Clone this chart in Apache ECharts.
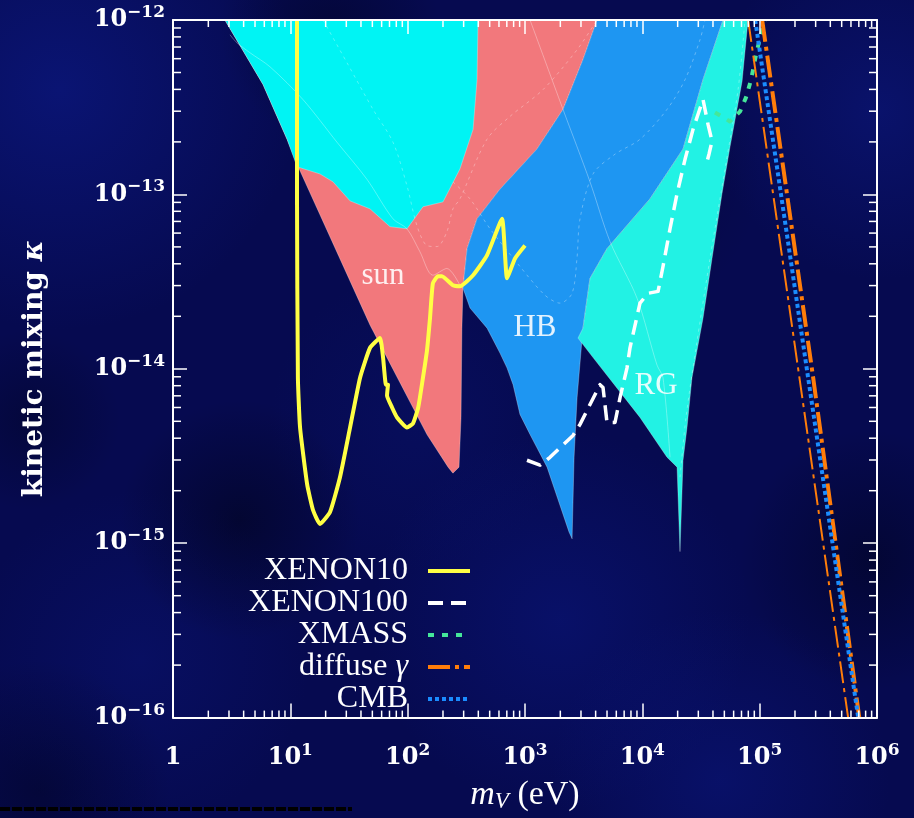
<!DOCTYPE html>
<html>
<head>
<meta charset="utf-8">
<title>Dark photon kinetic mixing limits</title>
<script src="https://cdn.jsdelivr.net/npm/echarts@6/dist/echarts.min.js"></script>
<style>
  html, body { margin: 0; padding: 0; background: #060a50; }
  #chart { width: 914px; height: 818px; }
</style>
</head>
<body>
<div id="chart"></div>
<script>
// ---- axis tick labels (powers of ten) ----
const xTickSup = ['', '1', '2', '3', '4', '5', '6'];          // 1 ... 10^6 eV
const yTickSup = ['\u221216', '\u221215', '\u221214', '\u221213', '\u221212'];

// ---- excluded regions (mass in eV, kinetic mixing) ----
const sunMass  = [2.77, 5.85, 9.38, 11.4, 47.8, 146, 221, 243, 274, 285, 290, 296, 321, 390, 612, 1266, 2109, 3119, 4111];
const sunKappa = [1e-12, 4.27e-13, 2.07e-13, 1.49e-13, 1.78e-14, 4.2e-15, 2.73e-15, 2.52e-15, 2.73e-15, 5.26e-15, 1.71e-14, 2.9e-14, 4.89e-14, 7.24e-14, 1.07e-13, 1.82e-13, 3.07e-13, 5.92e-13, 1e-12];

const upperMass  = [2.77, 5.85, 9.38, 11.4, 17.9, 23.1, 32.3, 47.8, 70.7, 98.7, 135, 200, 279, 361, 390, 398];
const upperKappa = [1e-12, 4.27e-13, 2.07e-13, 1.44e-13, 1.31e-13, 1.18e-13, 9.18e-14, 8.26e-14, 6.53e-14, 6.35e-14, 8.49e-14, 9.06e-14, 1.40e-13, 2.36e-13, 4.55e-13, 1e-12];

const hbMass  = [4111, 48750, 32900, 22230, 11610, 5000, 3581, 3119, 2780, 2620, 2520, 2371, 1542, 1104, 906, 791, 703, 612, 475, 340, 296, 321, 390, 612, 1266, 2109, 3119];
const hbKappa = [1e-12, 1e-12, 4.55e-13, 1.82e-13, 9.42e-14, 4.89e-14, 3.30e-14, 1.71e-14, 6.84e-15, 3.11e-15, 1.06e-15, 1.16e-15, 2.73e-15, 4.2e-15, 5.47e-15, 8.11e-15, 1.01e-14, 1.23e-14, 1.71e-14, 2.23e-14, 2.9e-14, 4.89e-14, 7.24e-14, 1.07e-13, 1.82e-13, 3.07e-13, 5.92e-13];

const rgMass  = [48750, 79600, 70800, 55850, 47750, 39260, 32900, 26490, 24040, 22230, 20940, 19770, 16220, 9550, 3802, 2830, 3119, 3581, 5000, 11610, 22230, 32900];
const rgKappa = [1e-12, 1e-12, 4.44e-13, 1.87e-13, 1.01e-13, 4.29e-14, 1.95e-14, 8.89e-15, 4.61e-15, 2.99e-15, 8.95e-16, 2.73e-15, 3.11e-15, 5.26e-15, 1.16e-14, 1.50e-14, 1.71e-14, 3.30e-14, 4.89e-14, 9.42e-14, 1.82e-13, 4.55e-13];

const regionLabelText  = ['sun', 'HB', 'RG'];
const regionLabelMass  = [61.6, 1217, 13090];
const regionLabelKappa = [3.39e-14, 1.71e-14, 8.0e-15];

// ---- faint reference curves inside the regions ----
const guideAMass  = [3.06, 3.51, 4.53, 6.71, 12.8, 25.0, 45.0, 75.0, 98.7, 127, 164, 216, 279];
const guideAKappa = [8.22e-13, 7.40e-13, 6.49e-13, 5.39e-13, 3.50e-13, 1.99e-13, 1.22e-13, 7.24e-14, 6.35e-14, 4.70e-14, 3.44e-14, 3.76e-14, 3.01e-14];
const guideBMass  = [1104, 2109, 3581, 5309, 9010, 13340, 15000, 17220];
const guideBKappa = [1e-12, 3.07e-13, 1.18e-13, 5.36e-14, 2.54e-14, 1.05e-14, 8.89e-15, 3.11e-15];
const contourAMass  = [19.0, 30.4, 50.7, 75.0, 98.7, 120, 146, 178, 216, 243, 279, 474, 745, 1425, 2773, 4111];
const contourAKappa = [1e-12, 5.69e-13, 3.07e-13, 1.99e-13, 1.12e-13, 6.62e-14, 5.09e-14, 5.02e-14, 6.11e-14, 8.26e-14, 9.42e-14, 2.07e-13, 2.80e-13, 3.99e-13, 6.74e-13, 1e-12];
const contourBMass  = [243, 340, 504, 906, 1482, 1986, 2517, 2773, 2944, 3802, 5848, 9550, 16220, 23120, 30980, 34200];
const contourBKappa = [1.18e-13, 9.42e-14, 6.35e-14, 3.86e-14, 2.64e-14, 2.38e-14, 2.71e-14, 4.29e-14, 7.24e-14, 1.31e-13, 1.70e-13, 2.07e-13, 3.07e-13, 4.55e-13, 7.69e-13, 1e-12];
const contourCMass  = [20940, 23560, 28690, 37740, 50700, 65460, 74990];
const contourCKappa = [2.39e-15, 5.26e-15, 1.32e-14, 4.29e-14, 1.40e-13, 3.99e-13, 1e-12];

// ---- direct detection and cosmology limits ----
const xenon10Mass  = [11.4, 11.4, 11.6, 12.1, 13.9, 15.6, 17.9, 21.8, 26.5, 32.3, 39.3, 47.8, 58.1, 61.7, 65.3, 68.0, 66.7, 73.6, 81.2, 98.7, 111, 123, 133, 146, 155, 164, 181, 196, 243, 279, 361, 474, 637, 703, 822, 1000];
const xenon10Kappa = [1e-12, 9.42e-14, 8.89e-15, 4.61e-15, 2.18e-15, 1.55e-15, 1.29e-15, 1.51e-15, 2.39e-15, 4.61e-15, 8.89e-15, 1.32e-14, 1.50e-14, 1.16e-14, 8.11e-15, 8.11e-15, 7.02e-15, 6.0e-15, 5.26e-15, 4.61e-15, 4.86e-15, 6.0e-15, 8.32e-15, 1.27e-14, 1.95e-14, 3.09e-14, 3.39e-14, 3.39e-14, 3.01e-14, 2.97e-14, 3.44e-14, 4.47e-14, 7.24e-14, 3.30e-14, 4.29e-14, 5.09e-14];

const xenon100Mass  = [1040, 1343, 1633, 2566, 2944, 3581, 4356, 4624, 5000, 5848, 6457, 7396, 7852, 9550, 11190, 13620, 15000, 17220, 19770, 23120, 27040, 29850, 32900, 36300, 39260, 37000, 34900];
const xenon100Kappa = [2.99e-15, 2.80e-15, 3.11e-15, 4.15e-15, 4.80e-15, 6.24e-15, 8.11e-15, 7.80e-15, 4.92e-15, 4.92e-15, 6.84e-15, 1.01e-14, 1.32e-14, 2.38e-14, 2.71e-14, 2.78e-14, 3.86e-14, 6.35e-14, 1.01e-13, 1.59e-13, 2.36e-13, 2.88e-13, 3.50e-13, 2.52e-13, 2.02e-13, 1.70e-13, 1.47e-13];

const xmassMass  = [41600, 55850, 68100, 76500, 84500, 93100, 100700, 111200];
const xmassKappa = [2.95e-13, 2.62e-13, 2.99e-13, 3.6e-13, 4.55e-13, 6.32e-13, 7.89e-13, 1e-12];

const diffuseMass  = [105000, 285800, 706000];
const diffuseKappa = [1e-12, 8.89e-15, 1e-16];
const diffuseEdgeMass  = [79800, 567500];
const diffuseEdgeKappa = [1e-12, 1e-16];

const cmbMass  = [91600, 258800, 691800];
const cmbKappa = [1e-12, 8.89e-15, 1e-16];

// ---- styling ----
const tickFont = 'DejaVu Serif';
const textFont = 'Liberation Serif';
const pairs = (xs, ys) => xs.map((x, i) => [x, ys[i]]);

function regionSeries(name, masses, kappas, fill) {
  return {
    type: 'custom', name: name, silent: true, clip: true, z: 1,
    data: pairs(masses, kappas),
    renderItem: function (params, api) {
      if (params.dataIndex !== 0) return null;
      const pts = masses.map((m, i) => api.coord([m, kappas[i]]));
      return {
        type: 'polygon',
        shape: { points: pts },
        style: { fill: fill, stroke: 'rgba(255,255,255,0.28)', lineWidth: 1 }
      };
    }
  };
}

function faintSeries(masses, kappas, dashed) {
  return {
    type: 'line', silent: true, z: 3, symbol: 'none', smooth: 0.3,
    data: pairs(masses, kappas),
    lineStyle: { color: 'rgba(255,255,255,0.32)', width: 1, type: dashed ? [3, 4] : 'solid' },
    emphasis: { disabled: true }
  };
}

function limitSeries(name, masses, kappas, color, width, dash, smooth) {
  return {
    type: 'line', name: name, z: 4, symbol: 'none', smooth: smooth || false,
    data: pairs(masses, kappas),
    itemStyle: { color: color, opacity: 0 },
    lineStyle: { color: color, width: width, type: dash, cap: 'butt', join: 'round' },
    emphasis: { disabled: true }
  };
}

// minor ticks at 2..9 times each power of ten, drawn on all four sides
const minorTickData = [];
for (let e = 0; e < 6; e++) for (let k = 2; k <= 9; k++) minorTickData.push([k * Math.pow(10, e), 1e-14, 0]);
for (let e = -16; e < -12; e++) for (let k = 2; k <= 9; k++) minorTickData.push([10, k * Math.pow(10, e), 1]);

const minorTickSeries = {
  type: 'custom', silent: true, z: 6, clip: false,
  data: minorTickData,
  renderItem: function (params, api) {
    const cs = params.coordSys;
    const st = { stroke: '#ffffff', lineWidth: 1.5 };
    if (api.value(2) === 0) {
      const px = api.coord([api.value(0), api.value(1)])[0];
      return { type: 'group', children: [
        { type: 'line', shape: { x1: px, y1: cs.y + cs.height, x2: px, y2: cs.y + cs.height - 7 }, style: st },
        { type: 'line', shape: { x1: px, y1: cs.y, x2: px, y2: cs.y + 7 }, style: st }
      ] };
    }
    const py = api.coord([api.value(0), api.value(1)])[1];
    return { type: 'group', children: [
      { type: 'line', shape: { x1: cs.x, y1: py, x2: cs.x + 8, y2: py }, style: st },
      { type: 'line', shape: { x1: cs.x + cs.width, y1: py, x2: cs.x + cs.width - 8, y2: py }, style: st }
    ] };
  }
};

const regionLabelSeries = {
  type: 'custom', silent: true, z: 5,
  data: pairs(regionLabelMass, regionLabelKappa),
  renderItem: function (params, api) {
    const p = api.coord([api.value(0), api.value(1)]);
    return {
      type: 'text', x: p[0], y: p[1],
      style: {
        text: regionLabelText[params.dataIndex],
        fill: 'rgba(255,255,255,0.88)',
        font: '31px "' + textFont + '"',
        align: 'center', verticalAlign: 'middle'
      }
    };
  }
};

const tickRich = {
  b: { fontFamily: tickFont, fontWeight: 'bold', fontSize: 24, lineHeight: 32, color: '#ffffff' },
  s: { fontFamily: tickFont, fontWeight: 'bold', fontSize: 17, lineHeight: 17, padding: [0, 0, 15, 0], color: '#ffffff' }
};

function expOf(v) { return Math.round(Math.log10(v)); }

const axisBase = {
  type: 'log', logBase: 10, z: 10,
  axisLine: { show: true, lineStyle: { color: '#ffffff', width: 2 } },
  axisTick: { show: true, inside: true, length: 14, lineStyle: { color: '#ffffff', width: 1.5 } },
  splitLine: { show: false },
  minorTick: { show: false }
};

// soft patches that give the dark blue backdrop some texture
function patch(cx, cy, r, color, alpha) {
  return {
    type: 'circle', silent: true, z: 0,
    shape: { cx: cx, cy: cy, r: r },
    style: { fill: { type: 'radial', x: 0.5, y: 0.5, r: 0.5, colorStops: [
      { offset: 0, color: 'rgba(' + color + ',' + alpha + ')' },
      { offset: 1, color: 'rgba(' + color + ',0)' }
    ] } }
  };
}

const option = {
  animation: false,
  backgroundColor: '#060a50',
  graphic: [
    patch(60, 90, 240, '14,30,150', 0.50),
    patch(880, 110, 170, '14,28,140', 0.45),
    patch(560, 620, 190, '12,26,140', 0.40),
    patch(140, 660, 170, '12,24,130', 0.35),
    patch(720, 780, 170, '12,26,140', 0.40),
    patch(420, 420, 150, '10,22,120', 0.30),
    patch(240, 520, 120, '1,3,25', 0.55),
    patch(870, 560, 130, '1,3,30', 0.55),
    patch(330, 30, 110, '1,3,30', 0.45),
    patch(40, 790, 130, '1,3,30', 0.45),
    patch(620, 180, 140, '1,3,30', 0.30),
    patch(30, 420, 90, '1,3,30', 0.40),
    { type: 'line', silent: true, z: 0, shape: { x1: 0, y1: 809, x2: 352, y2: 809 },
      style: { stroke: '#000000', lineWidth: 4, lineDash: [10, 2] } }
  ],
  grid: { left: 173, top: 20, width: 704, height: 702, containLabel: false },
  xAxis: [
    Object.assign({}, axisBase, {
      position: 'bottom', min: 1, max: 1e6, splitNumber: 6,
      axisLabel: {
        margin: 24, rich: tickRich,
        formatter: function (v) {
          const e = expOf(v);
          return e === 0 ? '{b|1}' : '{b|10}{s|' + xTickSup[e] + '}';
        }
      },
      name: '{i|m}{v|V}{n| (eV)}',
      nameLocation: 'middle', nameGap: 58,
      nameTextStyle: {
        color: '#ffffff',
        rich: {
          i: { fontFamily: textFont, fontStyle: 'italic', fontSize: 34, color: '#ffffff' },
          v: { fontFamily: textFont, fontStyle: 'italic', fontSize: 23, padding: [12, 0, 0, 0], color: '#ffffff' },
          n: { fontFamily: textFont, fontSize: 34, color: '#ffffff' }
        }
      }
    }),
    Object.assign({}, axisBase, {
      position: 'top', min: 1, max: 1e6, splitNumber: 6,
      axisLabel: { show: false }
    })
  ],
  yAxis: [
    Object.assign({}, axisBase, {
      position: 'left', min: 1e-16, max: 1e-12, splitNumber: 4,
      axisLabel: {
        margin: 8, rich: tickRich,
        formatter: function (v) { return '{b|10}{s|' + yTickSup[expOf(v) + 16] + '}'; }
      },
      name: 'kinetic mixing {k|\u03ba}',
      nameLocation: 'middle', nameGap: 124, nameRotate: 90,
      nameTextStyle: {
        color: '#ffffff', fontFamily: tickFont, fontWeight: 'bold', fontSize: 28,
        rich: { k: { fontFamily: tickFont, fontWeight: 'bold', fontStyle: 'italic', fontSize: 28, color: '#ffffff' } }
      }
    }),
    Object.assign({}, axisBase, {
      position: 'right', min: 1e-16, max: 1e-12, splitNumber: 4,
      axisLabel: { show: false }
    })
  ],
  legend: {
    orient: 'vertical', align: 'right',
    right: 442, top: 555, padding: 0,
    itemWidth: 42, itemHeight: 14, itemGap: 0,
    selectedMode: false,
    itemStyle: { opacity: 0 },
    lineStyle: { width: 4 },
    data: ['XENON10', 'XENON100', 'XMASS', 'diffuse \u03b3', 'CMB'],
    formatter: function (name) { return name === 'diffuse \u03b3' ? 'diffuse {g|\u03b3}' : name; },
    textStyle: {
      color: '#ffffff', fontFamily: textFont, fontSize: 32, lineHeight: 31,
      padding: [0, 15, 0, 0],
      rich: { g: { fontFamily: textFont, fontStyle: 'italic', fontSize: 32, lineHeight: 31, color: '#ffffff' } }
    }
  },
  series: [
    regionSeries('sun', sunMass, sunKappa, '#f2787c'),
    regionSeries('upper', upperMass, upperKappa, '#00f4f4'),
    regionSeries('HB', hbMass, hbKappa, '#1e96f2'),
    regionSeries('RG', rgMass, rgKappa, '#22f2e4'),
    faintSeries(guideAMass, guideAKappa, false),
    faintSeries(guideBMass, guideBKappa, false),
    faintSeries(contourAMass, contourAKappa, true),
    faintSeries(contourBMass, contourBKappa, true),
    faintSeries(contourCMass, contourCKappa, true),
    regionLabelSeries,
    limitSeries('XENON10', xenon10Mass, xenon10Kappa, '#ffff44', 4, 'solid', 0.15),
    limitSeries('XENON100', xenon100Mass, xenon100Kappa, '#ffffff', 3.5, [15, 8]),
    limitSeries('XMASS', xmassMass, xmassKappa, '#45e79a', 4, [6, 8]),
    limitSeries('diffuse \u03b3', diffuseMass, diffuseKappa, '#ff7d0a', 4, [22, 5, 4, 5]),
    limitSeries('diffuse \u03b3', diffuseEdgeMass, diffuseEdgeKappa, '#ff7d0a', 2, [22, 5, 4, 5]),
    limitSeries('CMB', cmbMass, cmbKappa, '#1a8cff', 4, [4, 3]),
    minorTickSeries
  ]
};

const chart = echarts.init(document.getElementById('chart'));
chart.setOption(option);
</script>
</body>
</html>
